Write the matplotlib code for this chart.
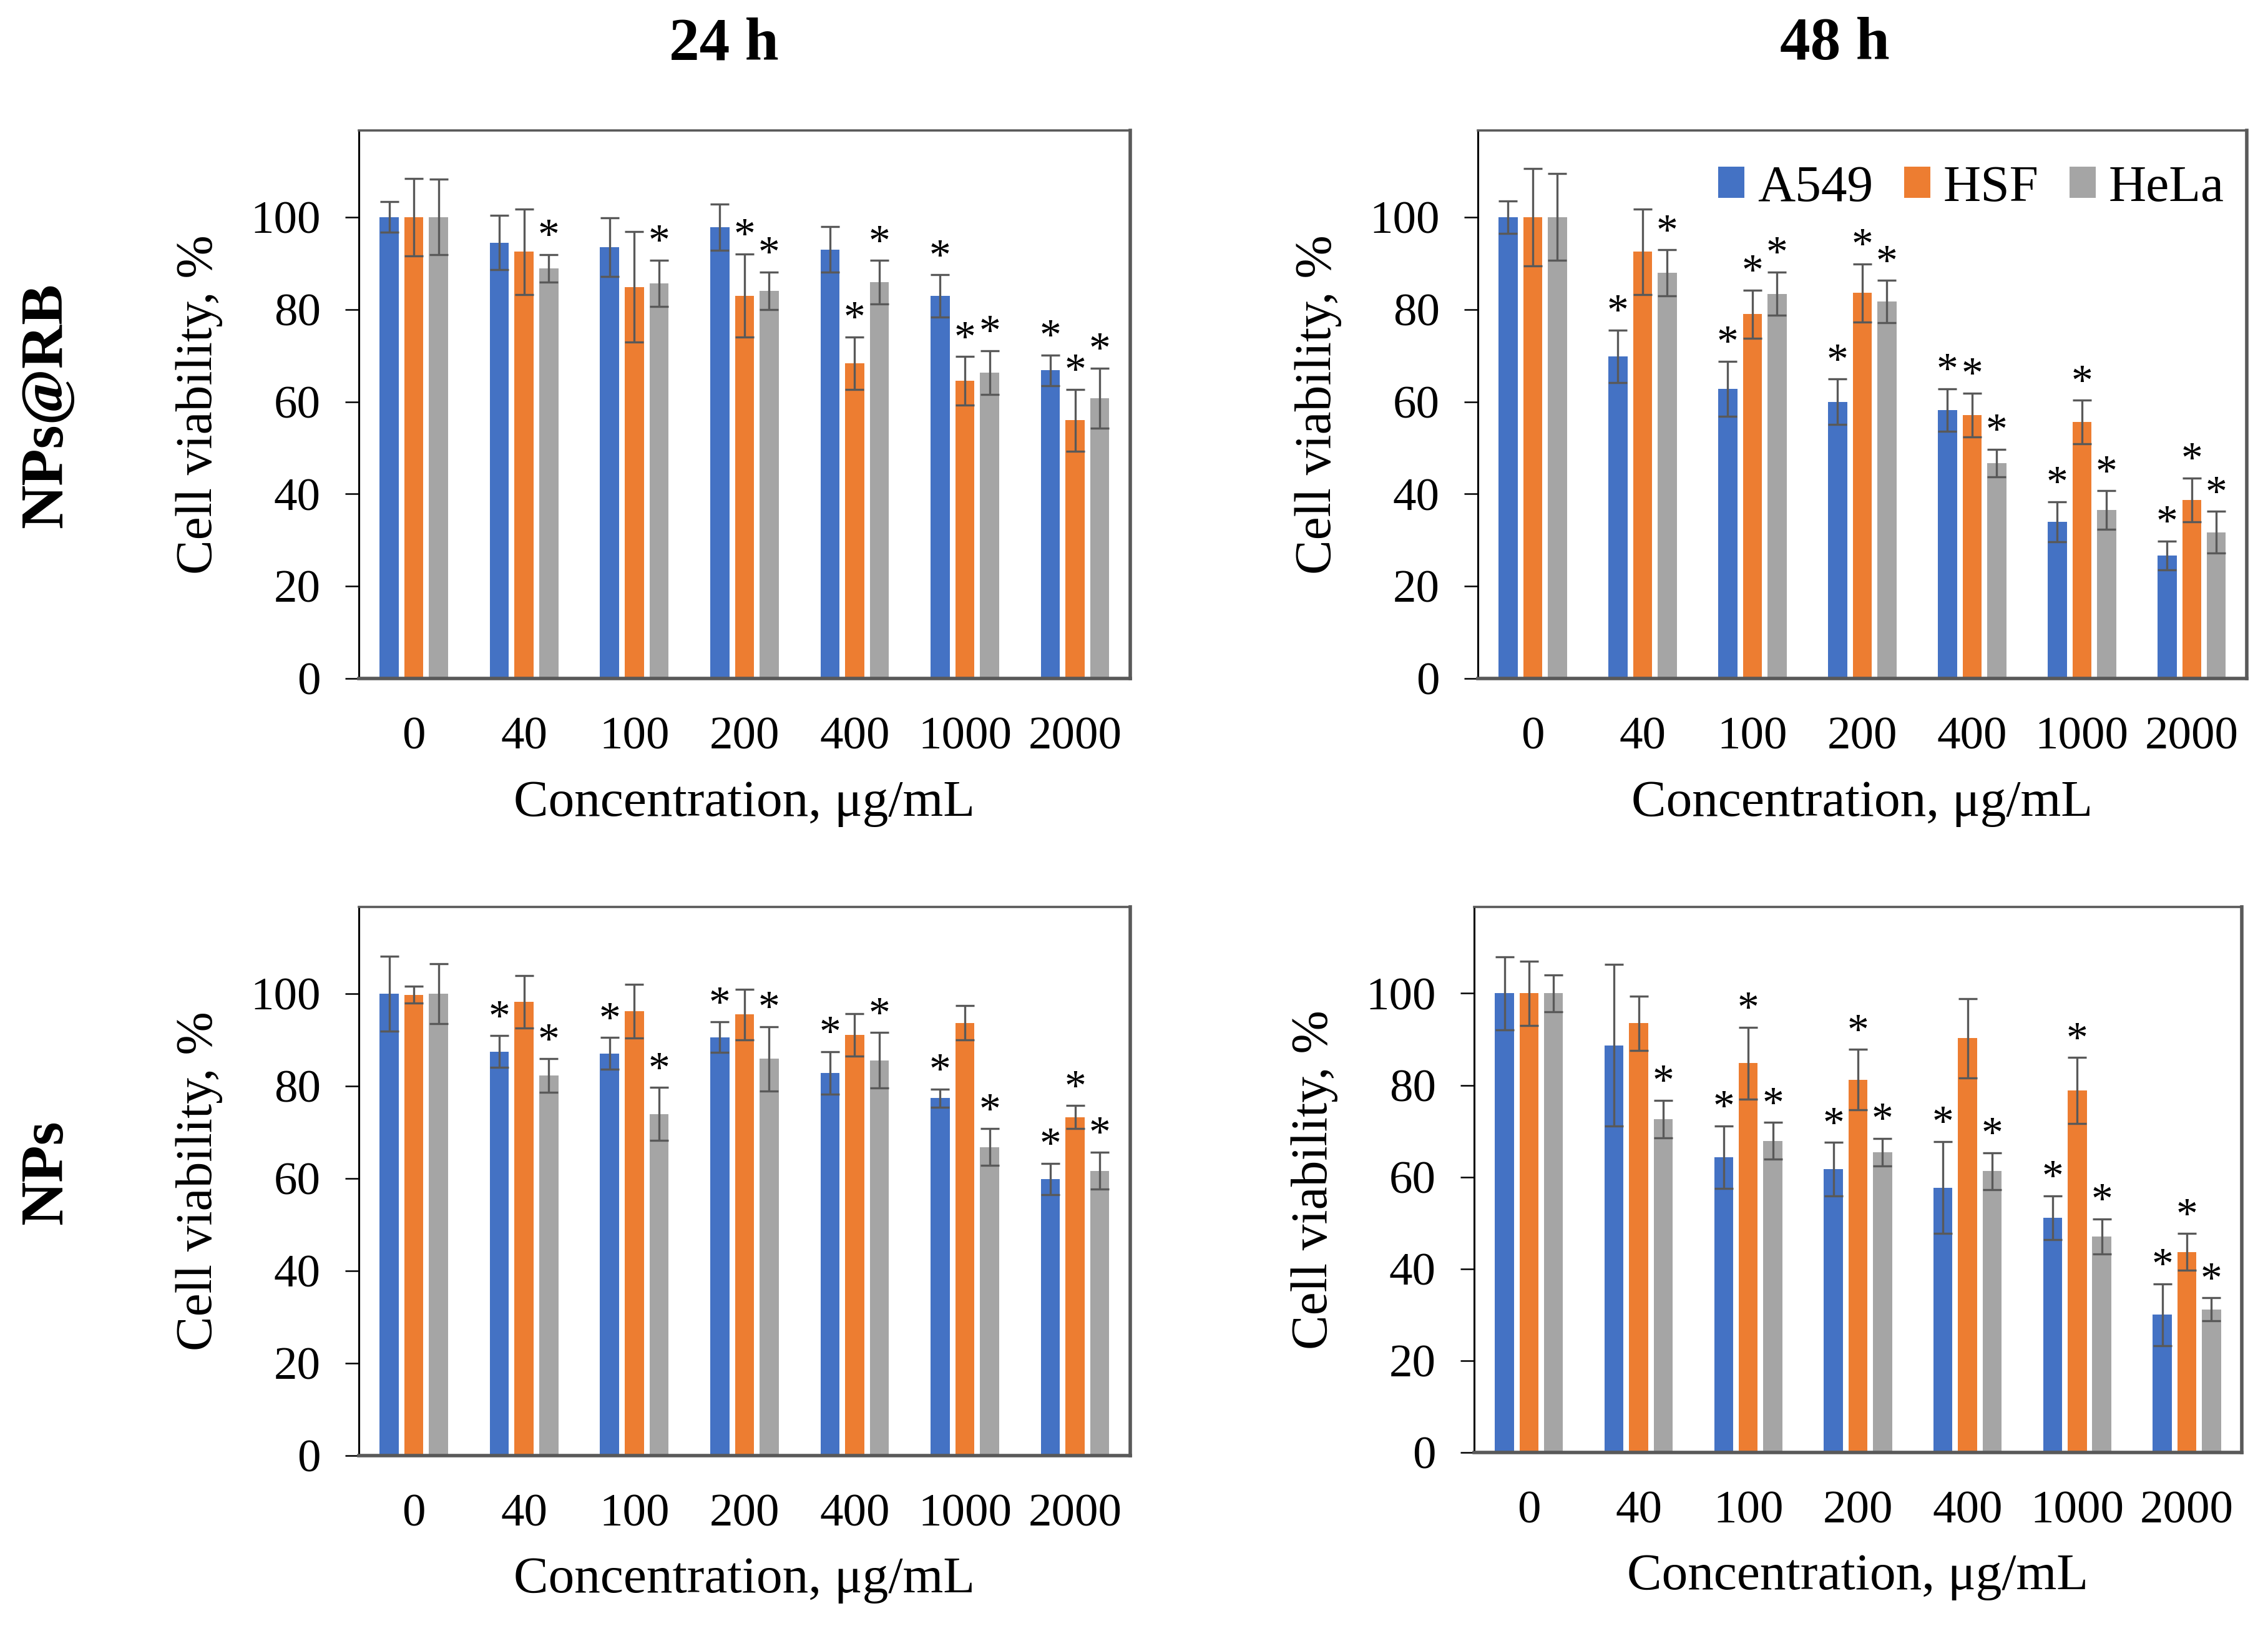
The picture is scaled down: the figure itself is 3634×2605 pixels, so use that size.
import numpy as np
import matplotlib
matplotlib.use("Agg")
import matplotlib.pyplot as plt

plt.rcParams['font.family'] = ['Liberation Serif', 'DejaVu Serif']

conc = ["0", "40", "100", "200", "400", "1000", "2000"]
cells = ["A549", "HSF", "HeLa"]
colors = ["#4472C4", "#ED7D31", "#A5A5A5"]

# NPs@RB, 24 h  (rows: A549, HSF, HeLa)
rb24_mean = [[100, 94.5, 93.5, 97.8, 93.0, 82.9, 66.8],
             [100, 92.5, 84.9, 83.0, 68.3, 64.5, 56.0],
             [100, 88.9, 85.7, 84.0, 85.9, 66.3, 60.8]]
rb24_sd = [[3.3, 5.9, 6.3, 5.0, 4.9, 4.6, 3.3],
           [8.4, 9.3, 12.0, 9.0, 5.7, 5.3, 6.7],
           [8.2, 3.0, 5.0, 4.1, 4.7, 4.8, 6.5]]
rb24_star = [[0, 0, 0, 0, 0, 1, 1],
             [0, 0, 0, 1, 1, 1, 1],
             [0, 1, 1, 1, 1, 1, 1]]

# NPs@RB, 48 h
rb48_mean = [[100, 69.8, 62.8, 60.0, 58.2, 34.0, 26.7],
             [100, 92.5, 79.0, 83.6, 57.1, 55.6, 38.7],
             [100, 87.9, 83.4, 81.7, 46.7, 36.5, 31.7]]
rb48_sd = [[3.5, 5.7, 6.0, 4.9, 4.6, 4.3, 3.1],
           [10.6, 9.3, 5.2, 6.3, 4.8, 4.7, 4.8],
           [9.4, 5.0, 4.7, 4.6, 3.0, 4.2, 4.5]]
rb48_star = [[0, 1, 1, 1, 1, 1, 1],
             [0, 0, 1, 1, 1, 1, 1],
             [0, 1, 1, 1, 1, 1, 1]]

# NPs, 24 h
np24_mean = [[100, 87.5, 87.1, 90.6, 82.9, 77.4, 59.9],
             [99.8, 98.3, 96.2, 95.5, 91.1, 93.7, 73.3],
             [100, 82.3, 74.0, 85.9, 85.6, 66.8, 61.7]]
np24_sd = [[8.1, 3.4, 3.4, 3.3, 4.6, 2.0, 3.4],
           [1.8, 5.7, 5.8, 5.5, 4.6, 3.7, 2.5],
           [6.5, 3.6, 5.7, 7.0, 6.0, 4.0, 4.0]]
np24_star = [[0, 1, 1, 1, 1, 1, 1],
             [0, 0, 0, 0, 0, 0, 1],
             [0, 1, 1, 1, 1, 1, 1]]

# NPs, 48 h
np48_mean = [[100, 88.7, 64.3, 61.7, 57.7, 51.1, 30.0],
             [100, 93.5, 84.8, 81.2, 90.2, 78.8, 43.7],
             [100, 72.6, 67.9, 65.4, 61.3, 47.1, 31.2]]
np48_sd = [[8.0, 17.6, 6.8, 5.8, 10.0, 4.8, 6.7],
           [7.0, 5.9, 7.8, 6.6, 8.6, 7.2, 4.0],
           [4.0, 4.1, 4.0, 3.0, 4.0, 3.8, 2.5]]
np48_star = [[0, 0, 1, 1, 1, 1, 1],
             [0, 0, 1, 1, 0, 1, 1],
             [0, 1, 1, 1, 1, 1, 1]]

fig = plt.figure(figsize=(18.17, 13.025), dpi=200)

panels = [
    ([0.1582, 0.5827, 0.3401, 0.3371], rb24_mean, rb24_sd, rb24_star),
    ([0.6516, 0.5827, 0.3390, 0.3371], rb48_mean, rb48_sd, rb48_star),
    ([0.1582, 0.1048, 0.3401, 0.3374], np24_mean, np24_sd, np24_star),
    ([0.6500, 0.1067, 0.3384, 0.3355], np48_mean, np48_sd, np48_star),
]

x = np.arange(len(conc))
step = 0.224
width = 0.173

axes = []
for rect, means, sds, stars in panels:
    ax = fig.add_axes(rect)
    for i in range(3):
        xs = x + (i - 1) * step
        ax.bar(xs, means[i], width=width, color=colors[i], label=cells[i],
               yerr=sds[i],
               error_kw=dict(ecolor="#595959", elinewidth=1.2, capsize=5.4, capthick=1.2))
        for j in range(len(conc)):
            if stars[i][j]:
                ax.text(xs[j], means[i][j] + sds[i][j] + 1.3, "*", ha="center",
                        va="baseline", fontsize=25)
    ax.set_xlim(-0.5, len(conc) - 0.5)
    ax.set_ylim(0, 118.8)
    ax.set_yticks(range(0, 101, 20))
    ax.set_xticks(x)
    ax.set_xticklabels(conc)
    ax.tick_params(axis="y", direction="out", length=8, width=0.9, pad=14, labelsize=27)
    ax.tick_params(axis="x", length=0, pad=22, labelsize=27)
    ax.set_xlabel("Concentration, μg/mL", fontsize=30, labelpad=12)
    ax.set_ylabel("Cell viability, %", fontsize=30, labelpad=16)
    ax.spines["left"].set_color("black")
    ax.spines["left"].set_linewidth(1.1)
    ax.spines["bottom"].set_color("#595959")
    ax.spines["bottom"].set_linewidth(2.0)
    ax.spines["top"].set_color("#595959")
    ax.spines["top"].set_linewidth(1.3)
    ax.spines["right"].set_color("#595959")
    ax.spines["right"].set_linewidth(2.0)
    axes.append(ax)

axes[1].legend(loc="upper right", bbox_to_anchor=(0.998, 0.975), ncol=3, frameon=False,
               fontsize=30, handlelength=0.5, handleheight=0.55, handletextpad=0.25,
               columnspacing=0.6, borderaxespad=0)

fig.text(1160 / 3634, 1 - 72 / 2605, "24 h", ha="center", va="center",
         fontsize=35, fontweight="bold")
fig.text(2940 / 3634, 1 - 72 / 2605, "48 h", ha="center", va="center",
         fontsize=35, fontweight="bold")
fig.text(76 / 3634, 1 - 649 / 2605, "NPs@RB", ha="center", va="center",
         rotation=90, fontsize=35, fontweight="bold")
fig.text(76 / 3634, 1 - 1878 / 2605, "NPs", ha="center", va="center",
         rotation=90, fontsize=35, fontweight="bold")

fig.savefig("out.png", dpi=200)
